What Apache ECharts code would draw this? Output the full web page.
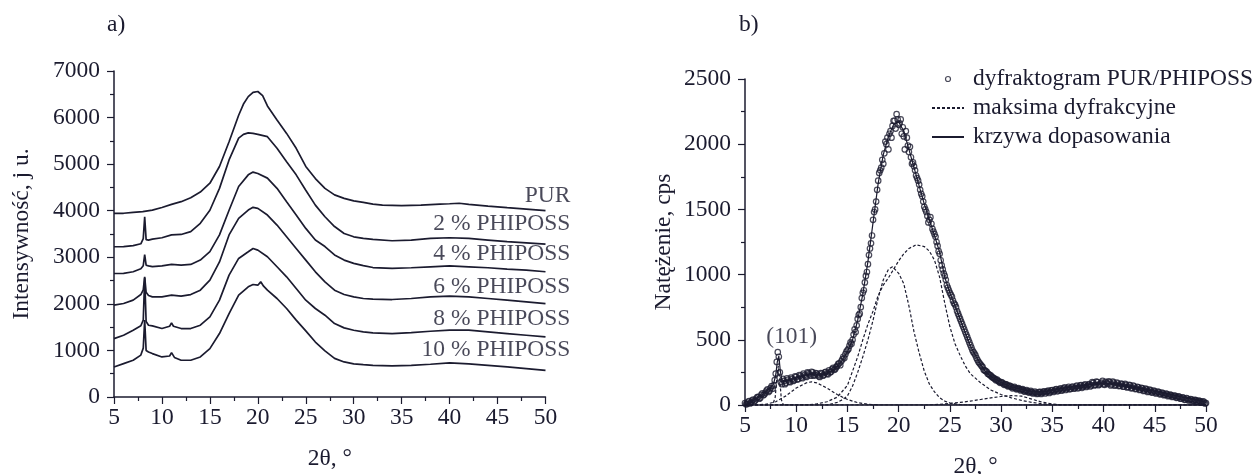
<!DOCTYPE html>
<html>
<head>
<meta charset="utf-8">
<script src="https://cdn.jsdelivr.net/npm/echarts@6/dist/echarts.min.js"></script>
<style>
  html, body { margin: 0; padding: 0; background: #fff; }
  #main { width: 1259px; height: 474px; }
</style>
</head>
<body>
<div id="main"></div>
<script>
// ---- panel a: [2theta, intensity] ----
var curvePUR = [[5,3943],[6,3945],[7,3964],[8,3980],[9,4014],[10,4070],[11,4136],[12,4194],[13,4280],[14,4400],[15,4590],[16,4950],[17,5480],[18,6050],[18.5,6290],[19,6450],[19.5,6540],[20,6560],[20.5,6470],[21,6250],[22,5950],[23,5660],[24,5340],[25,4950],[26,4690],[27,4480],[28,4340],[29,4265],[30,4210],[31,4180],[32,4140],[33,4120],[35,4108],[37,4122],[39,4143],[40,4150],[41,4160],[42,4136],[44,4100],[46,4065],[48,4036],[50,4000]];
var curve2 = [[5,3226],[6,3230],[7,3250],[7.8,3290],[8.05,3400],[8.2,3870],[8.35,3380],[8.6,3370],[9,3390],[10,3420],[11,3480],[12,3490],[13,3550],[14,3730],[15,4010],[16,4480],[17,5090],[18,5560],[18.5,5640],[19,5670],[19.5,5660],[20,5640],[21,5590],[22,5340],[23,5050],[24,4770],[25,4440],[26,4120],[27,3870],[28,3660],[29,3510],[30,3440],[31,3405],[32,3385],[34,3355],[36,3370],[38,3405],[40,3420],[42,3405],[44,3370],[46,3335],[48,3310],[50,3283]];
var curve4 = [[5,2652],[6,2655],[7,2690],[7.8,2755],[8.05,2820],[8.2,3060],[8.35,2830],[8.6,2815],[9,2800],[10,2817],[11,2846],[12,2832],[13,2846],[14,2940],[15,3120],[16,3480],[17,4010],[18,4520],[19,4770],[19.5,4830],[20,4800],[21,4700],[22,4480],[23,4190],[24,3910],[25,3620],[26,3370],[27,3230],[28,3050],[29,2940],[30,2870],[31,2820],[32,2780],[34,2760],[36,2775],[38,2795],[40,2815],[42,2795],[44,2775],[46,2745],[48,2725],[50,2690]];
var curve6 = [[5,1971],[6,2007],[7,2080],[7.8,2200],[8.05,2300],[8.2,2580],[8.35,2250],[8.6,2180],[9,2150],[10,2150],[11,2186],[12,2165],[13,2200],[14,2294],[15,2510],[16,2900],[17,3480],[18,3835],[19,4014],[19.5,4072],[20,4050],[21,3907],[22,3692],[23,3441],[24,3190],[25,2939],[26,2688],[27,2473],[28,2294],[29,2201],[30,2151],[31,2115],[32,2100],[34,2093],[36,2115],[38,2151],[40,2165],[42,2151],[44,2115],[46,2079],[48,2043],[50,2007]];
var curve8 = [[5,1254],[6,1326],[7,1434],[7.8,1530],[8.05,1650],[8.2,2560],[8.35,1620],[8.6,1541],[9,1527],[10,1470],[10.8,1520],[11,1591],[11.2,1520],[12,1470],[13,1470],[14,1541],[15,1720],[16,2079],[17,2616],[18,2975],[19,3118],[19.5,3190],[20,3154],[21,3011],[22,2796],[23,2581],[24,2330],[25,2079],[26,1900],[27,1756],[28,1577],[29,1484],[30,1434],[31,1398],[32,1376],[34,1362],[36,1384],[38,1412],[40,1434],[42,1434],[44,1398],[46,1362],[48,1326],[50,1290]];
var curve10 = [[5,645],[6,717],[7,789],[7.8,900],[8.05,1050],[8.2,1650],[8.35,1000],[8.6,968],[9,932],[10,860],[10.8,880],[11,953],[11.3,850],[12,789],[13,789],[14,860],[15,1039],[16,1362],[17,1792],[18,2186],[19,2366],[19.5,2416],[20,2401],[20.3,2473],[20.6,2380],[21,2294],[22,2115],[23,1900],[24,1650],[25,1420],[26,1180],[27,990],[28,830],[29,753],[30,710],[31,695],[32,681],[34,667],[36,681],[38,703],[40,731],[42,710],[44,681],[46,645],[48,609],[50,573]];
var curveNames = ['PUR', '2 % PHIPOSS', '4 % PHIPOSS', '6 % PHIPOSS', '8 % PHIPOSS', '10 % PHIPOSS'];
var labelAnchorY = [4318, 3717, 3072, 2363, 1676, 1010];
var labelAnchorX = 52.6;

// ---- panel b: measured points (two interleaved read-offs), fit and component peaks ----
var measured = [[5,15],[5.2,8],[5.4,30],[5.6,20],[5.8,42],[6,35],[6.2,60],[6.4,48],[6.6,80],[6.8,75],[7,95],[7.2,120],[7.4,110],[7.6,145],[7.8,150],[8,240],[8.2,405],[8.4,250],[8.6,160],[8.8,185],
  [9,170],[9.2,195],[9.4,175],[9.6,200],[9.8,190],[10,215],[10.2,200],[10.4,225],[10.6,205],[10.8,230],[11,215],[11.2,245],[11.4,225],[11.6,250],[11.8,230],[12,240],[12.2,220],[12.4,245],[12.6,225],[12.8,250],
  [13,240],[13.2,265],[13.4,255],[13.6,285],[13.8,275],[14,300],[14.2,320],[14.4,335],[14.6,370],[14.8,390],[15,420],[15.2,455],[15.4,470],[15.6,540],[15.8,560],[16,660],[16.2,700],[16.4,820],[16.6,880],[16.8,990],
  [17,1080],[17.2,1200],[17.4,1300],[17.6,1480],[17.8,1560],[18,1720],[18.2,1800],[18.4,1880],[18.6,1930],[18.8,2000],[19,1960],[19.2,2100],[19.4,2140],[19.6,2180],[19.8,2230],[20,2150],[20.2,2190],[20.4,2130],[20.6,1960],[20.8,2050],
  [21,1940],[21.2,1900],[21.4,1860],[21.6,1800],[21.8,1740],[22,1690],[22.2,1620],[22.4,1560],[22.6,1500],[22.8,1450],[23,1420],[23.2,1390],[23.4,1330],[23.6,1290],[23.8,1220],[24,1160],[24.2,1070],[24.4,1010],[24.6,960],[24.8,900],
  [25,860],[25.2,830],[25.4,780],[25.6,750],[25.8,700],[26,660],[26.2,620],[26.4,580],[26.6,540],[26.8,500],[27,460],[27.2,420],[27.4,395],[27.6,360],[27.8,330],[28,310],[28.2,290],[28.4,265],[28.6,255],[28.8,235],
  [29,225],[29.2,210],[29.4,200],[29.6,195],[29.8,180],[30,175],[30.2,165],[30.4,160],[30.6,150],[30.8,148],[31,140],[31.2,135],[31.4,130],[31.6,125],[31.8,122],[32,118],[32.2,112],[32.4,110],[32.6,105],[32.8,100],
  [33,98],[33.2,92],[33.4,95],[33.6,88],[33.8,100],[34,92],[34.2,105],[34.4,98],[34.6,110],[34.8,100],[35,115],[35.2,108],[35.4,122],[35.6,112],[35.8,128],[36,118],[36.2,135],[36.4,122],[36.6,140],[36.8,125],
  [37,142],[37.2,130],[37.4,148],[37.6,135],[37.8,152],[38,140],[38.2,158],[38.4,145],[38.6,160],[38.8,150],[39,170],[39.2,155],[39.4,175],[39.6,158],[39.8,172],[40,160],[40.2,178],[40.4,162],[40.6,175],[40.8,158],
  [41,172],[41.2,155],[41.4,165],[41.6,148],[41.8,160],[42,142],[42.2,155],[42.4,138],[42.6,150],[42.8,132],[43,142],[43.2,125],[43.4,135],[43.6,118],[43.8,128],[44,112],[44.2,120],[44.4,105],[44.6,112],[44.8,98],
  [45,105],[45.2,92],[45.4,98],[45.6,85],[45.8,90],[46,78],[46.2,84],[46.4,72],[46.6,76],[46.8,65],[47,70],[47.2,58],[47.4,62],[47.6,50],[47.8,55],[48,42],[48.2,48],[48.4,38],[48.6,42],[48.8,32],
  [49,38],[49.2,28],[49.4,30],[49.6,22],[49.8,25],[50,15]];
var measured2 = [[5.1,5],[5.3,25],[5.5,12],[5.7,35],[5.9,28],[6.1,50],[6.3,62],[6.5,55],[6.7,90],[6.9,82],[7.1,110],[7.3,100],[7.5,130],[7.7,125],[7.9,190],[8.1,330],[8.3,370],[8.5,175],[8.7,200],[8.9,160],
  [9.1,205],[9.3,180],[9.5,210],[9.7,185],[9.9,220],[10.1,195],[10.3,230],[10.5,210],[10.7,240],[10.9,220],[11.1,250],[11.3,235],[11.5,255],[11.7,225],[11.9,245],[12.1,230],[12.3,215],[12.5,240],[12.7,230],[12.9,255],
  [13.1,235],[13.3,250],[13.5,275],[13.7,270],[13.9,290],[14.1,315],[14.3,305],[14.5,350],[14.7,360],[14.9,410],[15.1,430],[15.3,480],[15.5,500],[15.7,580],[15.9,610],[16.1,690],[16.3,750],[16.5,860],[16.7,940],[16.9,1020],
  [17.1,1150],[17.3,1240],[17.5,1420],[17.7,1500],[17.9,1650],[18.1,1780],[18.3,1820],[18.5,1850],[18.7,2020],[18.9,2050],[19.1,2080],[19.3,2050],[19.5,2180],[19.7,2120],[19.9,2190],[20.1,2160],[20.3,2080],[20.5,2060],[20.7,2100],[20.9,1990],
  [21.1,1980],[21.3,1850],[21.5,1830],[21.7,1760],[21.9,1720],[22.1,1650],[22.3,1600],[22.5,1520],[22.7,1480],[22.9,1400],[23.1,1440],[23.3,1350],[23.5,1310],[23.7,1250],[23.9,1180],[24.1,1110],[24.3,1040],[24.5,990],[24.7,920],[24.9,880],
  [25.1,845],[25.3,800],[25.5,770],[25.7,720],[25.9,680],[26.1,640],[26.3,600],[26.5,560],[26.7,520],[26.9,480],[27.1,440],[27.3,405],[27.5,380],[27.7,345],[27.9,320],[28.1,300],[28.3,270],[28.5,260],[28.7,240],[28.9,230],
  [29.1,215],[29.3,205],[29.5,190],[29.7,185],[29.9,170],[30.1,172],[30.3,155],[30.5,158],[30.7,142],[30.9,145],[31.1,128],[31.3,140],[31.5,120],[31.7,130],[31.9,112],[32.1,122],[32.3,102],[32.5,115],[32.7,95],[32.9,108],
  [33.1,88],[33.3,102],[33.5,85],[33.7,98],[33.9,85],[34.1,100],[34.3,88],[34.5,105],[34.7,92],[34.9,112],[35.1,100],[35.3,118],[35.5,105],[35.7,120],[35.9,110],[36.1,128],[36.3,115],[36.5,132],[36.7,120],[36.9,138],
  [37.1,125],[37.3,142],[37.5,128],[37.7,148],[37.9,132],[38.1,150],[38.3,138],[38.5,155],[38.7,142],[38.9,175],[39.1,150],[39.3,180],[39.5,152],[39.7,165],[39.9,185],[40.1,155],[40.3,170],[40.5,182],[40.7,150],[40.9,180],
  [41.1,148],[41.3,172],[41.5,145],[41.7,165],[41.9,140],[42.1,162],[42.3,135],[42.5,155],[42.7,128],[42.9,148],[43.1,122],[43.3,140],[43.5,115],[43.7,132],[43.9,108],[44.1,125],[44.3,100],[44.5,118],[44.7,95],[44.9,110],
  [45.1,88],[45.3,102],[45.5,82],[45.7,95],[45.9,75],[46.1,88],[46.3,68],[46.5,80],[46.7,62],[46.9,72],[47.1,55],[47.3,66],[47.5,48],[47.7,58],[47.9,40],[48.1,52],[48.3,35],[48.5,45],[48.7,30],[48.9,40],
  [49.1,25],[49.3,34],[49.5,20],[49.7,28],[49.9,12]];
var fitCurve = [[5,10],[5.5,22],[6,45],[6.5,66],[7,100],[7.5,132],[7.8,165],[8,230],[8.15,330],[8.3,375],[8.45,260],[8.6,190],[9,185],[9.5,195],[10,207],[10.5,220],[11,232],[11.5,240],[12,235],[12.5,235],[13,245],[13.5,265],[14,295],[14.5,345],[15,410],[15.5,500],[16,650],[16.5,850],[17,1100],[17.5,1400],[18,1700],[18.5,1920],[19,2060],[19.5,2150],[20,2170],[20.5,2100],[21,1960],[21.5,1820],[22,1680],[22.5,1540],[23,1420],[23.5,1300],[24,1170],[24.5,980],[25,860],[25.5,760],[26,660],[26.5,555],[27,455],[27.5,380],[28,310],[28.5,255],[29,220],[29.5,195],[30,172],[31,140],[32,120],[33,103],[34,100],[35,112],[36,128],[37,138],[38,148],[39,158],[40,165],[41,165],[42,150],[43,135],[44,120],[45,105],[46,90],[47,72],[48,55],[49,40],[50,20]];
var peak101 = [[5,0],[7.7,0],[7.95,60],[8.1,200],[8.25,300],[8.4,190],[8.55,40],[8.75,0],[50,0]];
var peak11 = [[5,0],[7,5],[8,25],[9,70],[10,130],[11,170],[11.5,178],[12,170],[13,130],[14,80],[15,42],[16,18],[17,6],[18,0],[50,0]];
var peak19 = [[5,0],[13,0],[14,20],[14.5,40],[15,70],[15.5,145],[16,250],[16.5,370],[17,500],[17.5,650],[18,820],[18.5,960],[19,1040],[19.4,1060],[20,1010],[20.5,930],[21,760],[21.5,560],[22,400],[22.5,260],[23,160],[23.5,100],[24,55],[24.5,30],[25,15],[26,3],[27,0],[50,0]];
var peak22 = [[5,0],[11,0],[12,8],[13,25],[14,60],[15,150],[15.5,260],[16,370],[16.5,500],[17,620],[17.5,720],[18,840],[18.5,920],[19,975],[19.5,1040],[20,1105],[20.5,1160],[21,1200],[21.7,1228],[22.5,1215],[23,1180],[23.5,1110],[24,980],[24.5,780],[25,600],[25.5,470],[26,380],[26.5,300],[27,240],[28,170],[29,115],[30,80],[31,55],[32,35],[33,20],[34,10],[35,4],[36,0],[50,0]];
var peak31 = [[5,0],[23,0],[24,5],[25,12],[26,20],[27,30],[28,42],[29,55],[30,65],[31,72],[32,68],[33,45],[34,22],[35,8],[36,0],[50,0]];
var peakLabel = [[9.55, 525, '(101)']];

var ink = '#1b1b2f';
var serif = "'Liberation Serif', 'Times New Roman', serif";
var fs = 23.5;
var chart = echarts.init(document.getElementById('main'));

function plain(v) { return String(v); }

function xAxisDef(gridIndex, gap) {
  return {
    gridIndex: gridIndex, type: 'value', min: 5, max: 50, interval: 5,
    name: '2θ, °', nameLocation: 'middle', nameGap: gap,
    nameTextStyle: { fontFamily: serif, fontSize: fs, color: ink },
    axisLine: { lineStyle: { color: ink, width: 1.5 } },
    axisTick: { inside: false, length: 7, lineStyle: { color: ink, width: 1.2 } },
    minorTick: { show: true, splitNumber: 2, length: 4, lineStyle: { color: ink, width: 1.2 } },
    splitLine: { show: false },
    axisLabel: { fontFamily: serif, fontSize: fs, color: ink, margin: 9, formatter: plain }
  };
}
function yAxisDef(gridIndex, max, interval, name, gap) {
  return {
    gridIndex: gridIndex, type: 'value', min: 0, max: max, interval: interval,
    name: name, nameLocation: 'middle', nameGap: gap,
    nameTextStyle: { fontFamily: serif, fontSize: fs, color: ink },
    axisLine: { show: true, lineStyle: { color: ink, width: 1.5 } },
    axisTick: { show: true, inside: false, length: 7, lineStyle: { color: ink, width: 1.2 } },
    minorTick: { show: true, splitNumber: 2, length: 4, lineStyle: { color: ink, width: 1.2 } },
    splitLine: { show: false },
    axisLabel: { fontFamily: serif, fontSize: fs, color: ink, margin: 14, formatter: plain }
  };
}

var curvesA = [curvePUR, curve2, curve4, curve6, curve8, curve10];
var series = curvesA.map(function (d, i) {
  return {
    name: curveNames[i], type: 'line', xAxisIndex: 0, yAxisIndex: 0,
    data: d, symbol: 'none', silent: true,
    lineStyle: { color: ink, width: 1.7 }
  };
});
series.push({
  type: 'scatter', xAxisIndex: 0, yAxisIndex: 0, clip: false, symbolSize: 0, silent: true,
  data: labelAnchorY.map(function (y, i) { return [labelAnchorX, y, curveNames[i]]; }),
  label: {
    show: true, position: 'left', distance: 0,
    formatter: function (p) { return p.data[2]; },
    fontFamily: serif, fontSize: fs, color: ink
  }
});

var dashed = { color: ink, width: 1.2, type: [3, 2] };
[peak101, peak11, peak19, peak22, peak31].forEach(function (d) {
  series.push({
    name: 'maksima dyfrakcyjne', type: 'line', xAxisIndex: 1, yAxisIndex: 1,
    data: d, symbol: 'none', silent: true, lineStyle: dashed, itemStyle: { color: ink }
  });
});
series.push({
  name: 'krzywa dopasowania', type: 'line', xAxisIndex: 1, yAxisIndex: 1,
  data: fitCurve, symbol: 'none', silent: true,
  lineStyle: { color: ink, width: 1.2 }, itemStyle: { color: ink }
});
var ring = { color: 'rgba(255,255,255,0)', borderColor: ink, borderWidth: 1.2 };
[measured, measured2].forEach(function (d) {
  series.push({
    name: 'dyfraktogram PUR/PHIPOSS', type: 'scatter', xAxisIndex: 1, yAxisIndex: 1,
    data: d, symbol: 'circle', symbolSize: 5.5, silent: true, itemStyle: ring
  });
});
series.push({
  type: 'scatter', xAxisIndex: 1, yAxisIndex: 1, symbolSize: 0, silent: true,
  data: peakLabel,
  label: { show: true, position: 'inside', formatter: function (p) { return p.data[2]; },
    fontFamily: serif, fontSize: fs, color: ink }
});

chart.setOption({
  animation: false,
  backgroundColor: '#fff',
  title: [
    { text: 'a)', left: 102, top: 8, textStyle: { fontFamily: serif, fontSize: fs, fontWeight: 'normal', color: ink } },
    { text: 'b)', left: 734, top: 8, textStyle: { fontFamily: serif, fontSize: fs, fontWeight: 'normal', color: ink } }
  ],
  legend: {
    orient: 'vertical', left: 926, top: 62, itemWidth: 32, itemHeight: 5, itemGap: 5,
    selectedMode: false,
    textStyle: { fontFamily: serif, fontSize: fs, color: ink, padding: [0, 0, 0, 4] },
    data: [
      { name: 'dyfraktogram PUR/PHIPOSS', icon: 'circle', itemStyle: ring },
      { name: 'maksima dyfrakcyjne', itemStyle: { opacity: 0 } },
      { name: 'krzywa dopasowania', itemStyle: { opacity: 0 } }
    ]
  },
  grid: [
    { left: 114, top: 71, width: 431.5, height: 326, outerBoundsMode: 'none', containLabel: false },
    { left: 745, top: 79, width: 461, height: 326, outerBoundsMode: 'none', containLabel: false }
  ],
  xAxis: [xAxisDef(0, 50), xAxisDef(1, 50)],
  yAxis: [
    yAxisDef(0, 7000, 1000, 'Intensywność, j u.', 80),
    yAxisDef(1, 2500, 500, 'Natężenie, cps', 69)
  ],
  series: series
});
</script>
</body>
</html>
